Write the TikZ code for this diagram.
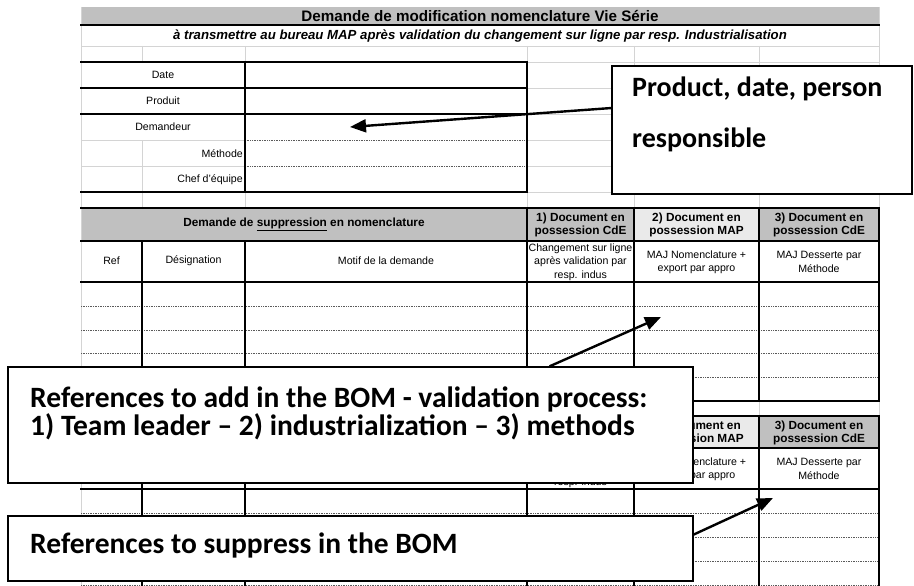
\documentclass[tikz,border=0pt]{standalone}
\usepackage{fontspec}
\setmainfont{Liberation Sans}
\newfontfamily\calloutfont{Carlito}
\usetikzlibrary{arrows.meta,calc}
\definecolor{hdrgray}{HTML}{C0C0C0}
\definecolor{hdrlight}{HTML}{EAEAEA}
\definecolor{gridgray}{HTML}{D4D4D4}
\definecolor{dotgray}{HTML}{5A5A5A}

\begin{document}
\begin{tikzpicture}[x=1pt,y=-1pt,
  gridline/.style={draw=gridgray,line width=0.9pt},
  border/.style={draw=black,line width=1.8pt,line cap=rect},
  dotline/.style={draw=dotgray,line width=0.7pt,dash pattern=on 0.8pt off 0.9pt},
  cell/.style={inner sep=0pt,align=center,font=\fontsize{10.6}{13.3}\selectfont},
  rcell/.style={inner sep=0pt,anchor=east,font=\fontsize{10.6}{13.3}\selectfont},
  hcell/.style={inner sep=0pt,align=center,font=\bfseries\fontsize{11.8}{13.6}\selectfont},
  callout/.style={draw=black,line width=1.3pt,fill=white,inner sep=0pt},
  calltext/.style={inner sep=0pt,anchor=base west,font=\calloutfont\bfseries\fontsize{29.5}{34}\selectfont},
  pointer/.style={draw=black,line width=2.4pt,-{Triangle[length=16pt,width=13pt]}}
]
\useasboundingbox (0,0) rectangle (914,586);
\fill[white] (0,0) rectangle (914,586);

% ---- shaded bands ----
\fill[hdrgray] (81,7) rectangle (879,25);
\fill[hdrgray] (81,208) rectangle (634,241);
\fill[hdrlight] (634,208) rectangle (759,241);
\fill[hdrgray] (759,208) rectangle (879,241);
\fill[hdrgray] (81,416) rectangle (634,448);
\fill[hdrlight] (634,416) rectangle (759,448);
\fill[hdrgray] (759,416) rectangle (879,448);

% ---- sheet grid ----
\draw[gridline] (81,7) -- (81,586);
\draw[gridline] (879,7) -- (879,208);
\draw[gridline] (81,46) -- (879,46);
\foreach \y in {62,88,114,140,166,192} \draw[gridline] (527,\y) -- (879,\y);
\foreach \y in {140,166} \draw[gridline] (81,\y) -- (245,\y);
\foreach \x in {142,245,527} \draw[gridline] (\x,46) -- (\x,62);
\draw[gridline] (142,140) -- (142,208);
\foreach \x in {245,527} \draw[gridline] (\x,192) -- (\x,208);
\foreach \x in {634,759} \draw[gridline] (\x,46) -- (\x,208);
\foreach \x in {142,245,527,634,759,879} \draw[gridline] (\x,401) -- (\x,416);

% ---- dotted row separators ----
\foreach \y in {140,166} \draw[dotline] (245,\y) -- (527,\y);
\foreach \y in {306,330,353,377,513,537,561,585} \draw[dotline] (81,\y) -- (879,\y);

% ---- heavy borders ----
\draw[border] (81,25) -- (879,25);
\foreach \y in {62,88,114,192} \draw[border] (81,\y) -- (527,\y);
\foreach \x in {245,527} \draw[border] (\x,62) -- (\x,192);
\foreach \y in {208,241,282,401,416,448,489} \draw[border] (81,\y) -- (879,\y);
\foreach \x in {527,634,759,879} {
  \draw[border] (\x,208) -- (\x,401);
  \draw[border] (\x,416) -- (\x,586);
}
\foreach \x in {142,245} {
  \draw[border] (\x,241) -- (\x,401);
  \draw[border] (\x,448) -- (\x,586);
}

% ---- sheet texts ----
\node[inner sep=0pt,font=\bfseries\fontsize{15.2}{17}\selectfont] (title) at (480,16) {Demande de modification nomenclature Vie Série};
\node[inner sep=0pt,font=\bfseries\itshape\fontsize{13.2}{15}\selectfont] (subtitle) at (480,36) {à transmettre au bureau MAP après validation du changement sur ligne par resp. Industrialisation};

\node[cell] (date) at (163,75) {Date};
\node[cell] (produit) at (163,101) {Produit};
\node[cell] (demandeur) at (163,127) {Demandeur};
\node[rcell] (methode) at (243,154) {Méthode};
\node[rcell] (chef) at (243,180) {Chef d'équipe};

% first table
\node[hcell] (supp) at (304,224) {Demande de \underline{suppression} en nomenclature};
\node[hcell] (h1a) at (580.5,225) {1) Document en\\possession CdE};
\node[hcell] (h2a) at (696.5,225) {2) Document en\\possession MAP};
\node[hcell] (h3a) at (819,225) {3) Document en\\possession CdE};
\node[cell] (refa) at (111.5,261) {Ref};
\node[cell] (desa) at (193.5,261) {Désignation};
\node[cell] (mota) at (386,261) {Motif de la demande};
\node[cell] (s1a) at (580.5,262) {Changement sur ligne\\après validation par\\resp. indus};
\node[cell] (s2a) at (696.5,262) {MAJ Nomenclature +\\export par appro};
\node[cell] (s3a) at (819,262) {MAJ Desserte par\\Méthode};

% second table (mostly under the callouts)
\node[hcell] (h2b) at (696.5,433) {2) Document en\\possession MAP};
\node[hcell] (h3b) at (819,433) {3) Document en\\possession CdE};
\node[cell] (s1b) at (580.5,469) {Changement sur ligne\\après validation par\\resp. indus};
\node[cell] (s2b) at (696.5,469) {MAJ Nomenclature +\\export par appro};
\node[cell] (s3b) at (819,469) {MAJ Desserte par\\Méthode};

% ---- callouts ----
\node[callout,minimum width=300pt,minimum height=128pt] (c1) at (762,130) {};
\node[calltext,font=\calloutfont\bfseries\fontsize{28}{34}\selectfont] (c1a) at (632,97) {Product, date, person};
\node[calltext,font=\calloutfont\bfseries\fontsize{28}{34}\selectfont] (c1b) at (632,147) {responsible};

\node[callout,minimum width=685pt,minimum height=116pt] (c2) at (350.5,425) {};
\node[calltext] (c2a) at (30,407) {References to add in the BOM - validation process:};
\node[calltext] (c2b) at (30,435) {1) Team leader – 2) industrialization – 3) methods};

\node[callout,minimum width=685pt,minimum height=65pt] (c3) at (350.5,548.5) {};
\node[calltext] (c3a) at (30,553) {References to suppress in the BOM};

% ---- pointers ----
\coordinate (t1) at (350,127);
\coordinate (t2) at (661,317);
\coordinate (t3) at (773,498);
\draw[pointer] ($(c1.north west)!0.33!(c1.south west)$) -- (t1);
\draw[pointer] ($(c2.north west)!0.79!(c2.north east)$) -- (t2);
\draw[pointer] ($(c3.north east)!0.29!(c3.south east)$) -- (t3);
\end{tikzpicture}
\end{document}
